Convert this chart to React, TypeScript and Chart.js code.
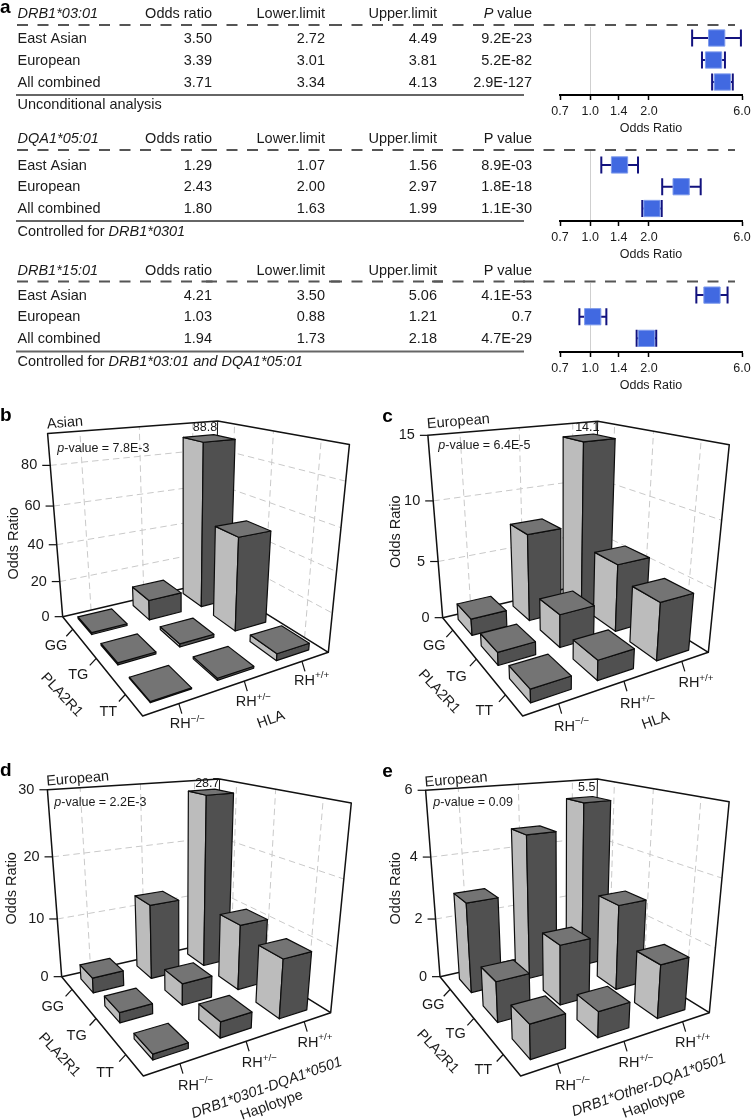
import React, { useEffect, useRef } from "react";
import { Chart, registerables } from "chart.js";
Chart.register(...registerables);

const FONT = '"Liberation Sans", Arial, sans-serif';

// ---------- Panel a data ----------
const rowLabels = ["East Asian", "European", "All combined"];
const columnHeaders = ["Odds ratio", "Lower.limit", "Upper.limit"];
const forestTicks = [0.7, 1.0, 1.4, 2.0, 6.0];

const drb1Odds = [3.5, 3.39, 3.71];
const drb1Lower = [2.72, 3.01, 3.34];
const drb1Upper = [4.49, 3.81, 4.13];
const drb1P = ["9.2E-23", "5.2E-82", "2.9E-127"];

const dqa1Odds = [1.29, 2.43, 1.8];
const dqa1Lower = [1.07, 2.0, 1.63];
const dqa1Upper = [1.56, 2.97, 1.99];
const dqa1P = ["8.9E-03", "1.8E-18", "1.1E-30"];

const drb15Odds = [4.21, 1.03, 1.94];
const drb15Lower = [3.5, 0.88, 1.73];
const drb15Upper = [5.06, 1.21, 2.18];
const drb15P = ["4.1E-53", "0.7", "4.7E-29"];

// ---------- 3D panels data ----------
const plaLabels = ["GG", "TG", "TT"];
const rhLabels = [
  ["\u2212/\u2212"],
  ["+/\u2212"],
  ["+/+"],
];
// rows: GG, TG, TT   columns: RH-/-, RH+/-, RH+/+
const asianGG = [1, 11, 88.8];
const asianTG = [1, 1.6, 49];
const asianTT = [0.5, 1, 3.5];
const asianTicks = [0, 20, 40, 60, 80];

const euroGG = [1.4, 7.4, 14.1];
const euroTG = [1.05, 2.7, 5.6];
const euroTT = [1.0, 1.55, 4.55];
const euroTicks = [0, 5, 10, 15];

const drbGG = [2.5, 12.5, 28.7];
const drbTG = [1.6, 3.5, 10.7];
const drbTT = [0.85, 2.45, 9.2];
const drbTicks = [0, 10, 20, 30];

const otherGG = [2.9, 4.7, 5.5];
const otherTG = [1.25, 1.9, 2.75];
const otherTT = [1.0, 0.78, 1.65];
const otherTicks = [0, 2, 4, 6];

type Seg = { t: string; it?: boolean; sup?: boolean; bold?: boolean };

function fontOf(s: Seg, size: number) {
  return `${s.it ? "italic " : ""}${s.bold ? "bold " : ""}${s.sup ? size * 0.68 : size}px ${FONT}`;
}

function segWidth(ctx: CanvasRenderingContext2D, segs: Seg[], size: number) {
  let w = 0;
  for (const s of segs) {
    ctx.font = fontOf(s, size);
    w += ctx.measureText(s.t).width;
  }
  return w;
}

function drawText(
  ctx: CanvasRenderingContext2D,
  segs: Seg[],
  x: number,
  y: number,
  size: number,
  align: "left" | "center" | "right" = "left",
  rot = 0,
  color = "#1a1a1a"
) {
  ctx.save();
  ctx.translate(x, y);
  ctx.rotate((rot * Math.PI) / 180);
  const w = segWidth(ctx, segs, size);
  let cx = align === "left" ? 0 : align === "center" ? -w / 2 : -w;
  ctx.fillStyle = color;
  ctx.textBaseline = "middle";
  ctx.textAlign = "left";
  for (const s of segs) {
    ctx.font = fontOf(s, size);
    ctx.fillText(s.t, cx, s.sup ? -size * 0.36 : 0);
    cx += ctx.measureText(s.t).width;
  }
  ctx.restore();
}

// ---------- Forest panel ----------
type ForestCfg = {
  top: number;
  height: number;
  areaTop: number;
  rows: [number, number]; // y scale range
  dash: number;
  rule: number;
  head: Seg[];
  pHead: Seg[];
  headY: number;
  note: Seg[];
  noteY: number;
  odds: number[];
  lower: number[];
  upper: number[];
  p: string[];
  dataRange: [number, number];
  letter?: string;
};

const forests: ForestCfg[] = [
  {
    top: 0,
    height: 136,
    areaTop: 27,
    rows: [-0.5, 2.59],
    dash: 25,
    rule: 95,
    head: [{ t: "DRB1*03:01", it: true }],
    pHead: [{ t: "P", it: true }, { t: " value" }],
    headY: 14,
    note: [{ t: "Unconditional analysis" }],
    noteY: 105,
    odds: drb1Odds,
    lower: drb1Lower,
    upper: drb1Upper,
    p: drb1P,
    dataRange: [0.735, 4.54],
    letter: "a",
  },
  {
    top: 132,
    height: 130,
    areaTop: 19,
    rows: [-0.64, 2.575],
    dash: 18,
    rule: 89,
    head: [{ t: "DQA1*05:01", it: true }],
    pHead: [{ t: "P value" }],
    headY: 7,
    note: [{ t: "Controlled for " }, { t: "DRB1*0301", it: true }],
    noteY: 99.5,
    odds: dqa1Odds,
    lower: dqa1Lower,
    upper: dqa1Upper,
    p: dqa1P,
    dataRange: [0.735, 4.54],
  },
  {
    top: 262,
    height: 131,
    areaTop: 21,
    rows: [-0.56, 2.63],
    dash: 19.5,
    rule: 89.5,
    head: [{ t: "DRB1*15:01", it: true }],
    pHead: [{ t: "P value" }],
    headY: 8.5,
    note: [
      { t: "Controlled for " },
      { t: "DRB1*03:01 and DQA1*05:01", it: true },
    ],
    noteY: 100,
    odds: drb15Odds,
    lower: drb15Lower,
    upper: drb15Upper,
    p: drb15P,
    dataRange: [0.7, 6],
  },
];

const columnRight = [212, 325, 437];
const pRight = 532;
const dashSegments: [number, number][] = [
  [17, 217],
  [206, 342],
  [331, 443],
  [432, 534],
  [523, 735],
];

const forestPlugin = (cfg: ForestCfg) => ({
  id: "forestTable",
  beforeDatasetsDraw(chart: any) {
    const ctx: CanvasRenderingContext2D = chart.ctx;
    const y = chart.scales.y;
    const xd = chart.scales.xData;
    ctx.save();
    // table rules
    ctx.strokeStyle = "#555";
    ctx.lineWidth = 2;
    ctx.setLineDash([11, 9.5]);
    for (const [a, b] of dashSegments) {
      ctx.beginPath();
      ctx.moveTo(a, cfg.dash);
      ctx.lineTo(b, cfg.dash);
      ctx.stroke();
    }
    ctx.setLineDash([]);
    ctx.strokeStyle = "#666";
    ctx.beginPath();
    ctx.moveTo(16, cfg.rule);
    ctx.lineTo(524, cfg.rule);
    ctx.stroke();
    // headers
    drawText(ctx, cfg.head, 17.5, cfg.headY, 14.5);
    columnHeaders.forEach((h, i) =>
      drawText(ctx, [{ t: h }], columnRight[i], cfg.headY, 14.5, "right")
    );
    drawText(ctx, cfg.pHead, pRight, cfg.headY, 14.5, "right");
    // rows
    rowLabels.forEach((lab, i) => {
      const py = y.getPixelForValue(i);
      drawText(ctx, [{ t: lab }], 17.5, py + 0.7, 14.5);
      [cfg.odds, cfg.lower, cfg.upper].forEach((col, c) =>
        drawText(ctx, [{ t: col[i].toFixed(2) }], columnRight[c], py + 0.7, 14.5, "right")
      );
      drawText(ctx, [{ t: cfg.p[i] }], pRight, py + 0.7, 14.5, "right");
      // error bars
      const a = xd.getPixelForValue(cfg.lower[i]);
      const b = xd.getPixelForValue(cfg.upper[i]);
      ctx.strokeStyle = "#12127e";
      ctx.lineWidth = 2;
      ctx.beginPath();
      ctx.moveTo(a, py);
      ctx.lineTo(b, py);
      ctx.moveTo(a, py - 8.5);
      ctx.lineTo(a, py + 8.5);
      ctx.moveTo(b, py - 8.5);
      ctx.lineTo(b, py + 8.5);
      ctx.stroke();
    });
    drawText(ctx, cfg.note, 17.5, cfg.noteY, 14.5);
    if (cfg.letter)
      drawText(ctx, [{ t: cfg.letter, bold: true }], 0, 8, 19, "left", 0, "#000");
    ctx.restore();
  },
});

function ForestPanel({ cfg }: { cfg: ForestCfg }) {
  const ref = useRef<HTMLCanvasElement>(null);
  useEffect(() => {
    const chart = new Chart(ref.current!, {
      type: "scatter",
      data: {
        datasets: [
          {
            label: "Odds ratio",
            xAxisID: "xData",
            data: cfg.odds.map((v, i) => ({ x: v, y: i })),
            pointStyle: "rect",
            pointRadius: 11.5,
            backgroundColor: "#4169e1",
            borderColor: "#7f9bec",
            borderWidth: 1,
          },
        ],
      },
      options: {
        animation: false,
        responsive: false,
        devicePixelRatio: 1,
        events: [],
        layout: { padding: { left: 560, right: 34, top: cfg.areaTop, bottom: 0 } },
        plugins: { legend: { display: false }, tooltip: { enabled: false } },
        scales: {
          x: {
            type: "logarithmic",
            min: 0.7,
            max: 6,
            afterBuildTicks: (s: any) => {
              s.ticks = forestTicks.map((value) => ({ value }));
            },
            afterFit: (s: any) => {
              s.height = 41;
            },
            border: { display: true, color: "#000", width: 2 },
            grid: {
              drawOnChartArea: true,
              tickLength: 5,
              lineWidth: 1,
              tickWidth: 1.5,
              tickColor: "#000",
              color: (c: any) => (c.tick && c.tick.value === 1 ? "#cfcfcf" : "rgba(0,0,0,0)"),
            },
            ticks: {
              autoSkip: false,
              maxRotation: 0,
              padding: 4.5,
              color: "#1a1a1a",
              font: { family: FONT, size: 12.5 },
              callback: (v: any) => Number(v).toFixed(1),
            },
            title: {
              display: true,
              text: "Odds Ratio",
              color: "#1a1a1a",
              font: { family: FONT, size: 12.5 },
              padding: { top: 0, bottom: 0 },
            },
          },
          xData: {
            type: "logarithmic",
            axis: "x",
            min: cfg.dataRange[0],
            max: cfg.dataRange[1],
            display: false,
          },
          y: {
            type: "linear",
            min: cfg.rows[0],
            max: cfg.rows[1],
            reverse: true,
            display: false,
          },
        },
      } as any,
      plugins: [forestPlugin(cfg)],
    });
    return () => chart.destroy();
  }, []);
  return (
    <canvas
      ref={ref}
      width={776}
      height={cfg.height}
      style={{ position: "absolute", left: 0, top: cfg.top, width: 776, height: cfg.height }}
    />
  );
}

// ---------- 3D panels ----------
type P2 = [number, number];
type Cfg3D = {
  letter: string;
  letterAt: P2;
  left: number;
  top: number;
  w: number;
  h: number;
  L: P2;
  F: P2;
  R: P2;
  B: P2;
  TL: P2;
  TB: P2;
  TR: P2;
  yMax: number;
  ticks: number[];
  gg: number[];
  tg: number[];
  tt: number[];
  title: string;
  titleAt: P2;
  pText: string;
  pAt: P2;
  peak: string;
  peakAt: P2;
  yTitleAt: P2;
  plaAt: P2[];
  plaTitleAt: P2;
  rhAt: P2[];
  xTitle: Seg[];
  xTitleAt: P2;
  xTitle2?: string;
  xTitle2At?: P2;
  half: [number, number];
};

// all layout numbers below are in triple-scale pixels, divided by 3 at draw time
const panels: Cfg3D[] = [
  {
    letter: "b",
    letterAt: [0, 32],
    left: 0,
    top: 405,
    w: 375,
    h: 350,
    L: [188, 635],
    F: [428, 933],
    R: [985, 742],
    B: [643, 529],
    TL: [140, 85],
    TB: [660, 42],
    TR: [1042, 127],
    yMax: 95,
    ticks: asianTicks,
    gg: asianGG,
    tg: asianTG,
    tt: asianTT,
    title: "Asian",
    titleAt: [195, 54],
    pText: "-value = 7.8E-3",
    pAt: [172, 130],
    peak: "88.8",
    peakAt: [615, 67],
    yTitleAt: [42, 415],
    plaAt: [[168, 722], [235, 810], [325, 920]],
    plaTitleAt: [185, 870],
    rhAt: [[562, 958], [760, 892], [935, 828]],
    xTitle: [{ t: "HLA" }],
    xTitleAt: [813, 944],
    half: [0.1, 0.103],
  },
  {
    letter: "c",
    letterAt: [22, 35],
    left: 375,
    top: 405,
    w: 376,
    h: 350,
    L: [203, 638],
    F: [443, 933],
    R: [1000, 742],
    B: [658, 530],
    TL: [155, 87],
    TB: [677, 44],
    TR: [1055, 130],
    yMax: 15,
    ticks: euroTicks,
    gg: euroGG,
    tg: euroTG,
    tt: euroTT,
    title: "European",
    titleAt: [250, 50],
    pText: "-value = 6.4E-5",
    pAt: [190, 122],
    peak: "14.1",
    peakAt: [637, 68],
    yTitleAt: [62, 380],
    plaAt: [[178, 722], [245, 815], [328, 918]],
    plaTitleAt: [192, 860],
    rhAt: [[590, 965], [788, 898], [963, 835]],
    xTitle: [{ t: "HLA" }],
    xTitleAt: [842, 947],
    half: [0.099, 0.104],
  },
  {
    letter: "d",
    letterAt: [0, 32],
    left: 0,
    top: 760,
    w: 375,
    h: 360,
    L: [185, 650],
    F: [430, 948],
    R: [992, 758],
    B: [648, 545],
    TL: [140, 93],
    TB: [665, 48],
    TR: [1048, 137],
    yMax: 30,
    ticks: drbTicks,
    gg: drbGG,
    tg: drbTG,
    tt: drbTT,
    title: "European",
    titleAt: [233, 57],
    pText: "-value = 2.2E-3",
    pAt: [163, 127],
    peak: "28.7",
    peakAt: [622, 70],
    yTitleAt: [37, 385],
    plaAt: [[158, 742], [230, 828], [315, 940]],
    plaTitleAt: [178, 885],
    rhAt: [[587, 978], [778, 910], [945, 848]],
    xTitle: [{ t: "DRB1*0301-DQA1*0501", it: true }],
    xTitleAt: [800, 984],
    xTitle2: "Haplotype",
    xTitle2At: [815, 1036],
    half: [0.085, 0.09],
  },
  {
    letter: "e",
    letterAt: [22, 35],
    left: 375,
    top: 760,
    w: 376,
    h: 360,
    L: [195, 650],
    F: [437, 948],
    R: [1003, 758],
    B: [658, 545],
    TL: [150, 93],
    TB: [673, 48],
    TR: [1057, 135],
    yMax: 6,
    ticks: otherTicks,
    gg: otherGG,
    tg: otherTG,
    tt: otherTT,
    title: "European",
    titleAt: [243, 60],
    pText: "-value = 0.09",
    pAt: [175, 127],
    peak: "5.5",
    peakAt: [635, 83],
    yTitleAt: [62, 385],
    plaAt: [[175, 735], [242, 822], [325, 930]],
    plaTitleAt: [188, 875],
    rhAt: [[593, 978], [783, 910], [953, 848]],
    xTitle: [{ t: "DRB1*Other-DQA1*0501", it: true }],
    xTitleAt: [822, 976],
    xTitle2: "Haplotype",
    xTitle2At: [837, 1030],
    half: [0.084, 0.088],
  },
];

function solve3(A: number[][], b: number[]) {
  const m = A.map((r, i) => [...r, b[i]]);
  for (let i = 0; i < 3; i++) {
    let piv = i;
    for (let k = i + 1; k < 3; k++) if (Math.abs(m[k][i]) > Math.abs(m[piv][i])) piv = k;
    [m[i], m[piv]] = [m[piv], m[i]];
    for (let k = 0; k < 3; k++) {
      if (k === i) continue;
      const f = m[k][i] / m[i][i];
      for (let j = i; j < 4; j++) m[k][j] -= f * m[i][j];
    }
  }
  return [m[0][3] / m[0][0], m[1][3] / m[1][1], m[2][3] / m[2][2]];
}

// A perspective camera fitted to the seven visible corners of the plot box.
function makeCamera(c: Cfg3D) {
  const p00 = c.F, p10 = c.R, p01 = c.L, p11 = c.B;
  const dx1 = p10[0] - p11[0], dx2 = p01[0] - p11[0], sx = p00[0] - p10[0] + p11[0] - p01[0];
  const dy1 = p10[1] - p11[1], dy2 = p01[1] - p11[1], sy = p00[1] - p10[1] + p11[1] - p01[1];
  const den = dx1 * dy2 - dx2 * dy1;
  const g = (sx * dy2 - dx2 * sy) / den;
  const h = (dx1 * sy - sx * dy1) / den;
  const a = p10[0] - p00[0] + g * p10[0], b = p01[0] - p00[0] + h * p01[0], e0 = p00[0];
  const d = p10[1] - p00[1] + g * p10[1], e = p01[1] - p00[1] + h * p01[1], f0 = p00[1];
  const tops: [number, number, P2][] = [
    [0, 1, c.TL],
    [1, 1, c.TB],
    [1, 0, c.TR],
  ];
  const rows: number[][] = [];
  const rhs: number[] = [];
  for (const [u, v, P] of tops) {
    const D = g * u + h * v + 1;
    rows.push([1, 0, -P[0]]);
    rhs.push(P[0] * D - (a * u + b * v + e0));
    rows.push([0, 1, -P[1]]);
    rhs.push(P[1] * D - (d * u + e * v + f0));
  }
  const AtA = [0, 1, 2].map((i) =>
    [0, 1, 2].map((j) => rows.reduce((s, r) => s + r[i] * r[j], 0))
  );
  const Atb = [0, 1, 2].map((i) => rows.reduce((s, r, k) => s + r[i] * rhs[k], 0));
  const [Cx, Cy, cw] = solve3(AtA, Atb);
  return (u: number, v: number, w: number): P2 => {
    const D = g * u + h * v + 1 + cw * w;
    return [(a * u + b * v + e0 + Cx * w) / D / 3, (d * u + e * v + f0 + Cy * w) / D / 3];
  };
}

const z = (p: P2): P2 => [p[0] / 3, p[1] / 3];

const plot3dPlugin = (c: Cfg3D) => ({
  id: "plot3d",
  beforeDatasetsDraw(chart: any) {
    const ctx: CanvasRenderingContext2D = chart.ctx;
    const { x, y, p } = chart.scales;
    const cam = makeCamera(c);
    const U = (i: number) => (x.getPixelForValue(i) - x.left) / x.width;
    const V = (j: number) => (p.getPixelForValue(j) - p.top) / p.height;
    const W = (val: number) => (y.bottom - y.getPixelForValue(val)) / y.height;
    const line = (pts: P2[]) => {
      ctx.beginPath();
      pts.forEach((q, i) => (i ? ctx.lineTo(q[0], q[1]) : ctx.moveTo(q[0], q[1])));
      ctx.stroke();
    };
    ctx.save();
    ctx.lineCap = "butt";
    ctx.lineJoin = "round";
    // dashed wall grid
    ctx.strokeStyle = "#c9c9c9";
    ctx.lineWidth = 1;
    ctx.setLineDash([6.5, 4]);
    [0, 1, 2].forEach((i) => {
      line([cam(U(i), 1, 0), cam(U(i), 1, 1)]);
      line([cam(1, V(i), 0), cam(1, V(i), 1)]);
    });
    c.ticks.forEach((t) => {
      const w = W(t);
      if (w <= 0 || w >= 0.999) return;
      line([cam(0, 1, w), cam(1, 1, w), cam(1, 0, w)]);
    });
    ctx.setLineDash([]);
    // box
    ctx.strokeStyle = "#111";
    ctx.lineWidth = 1.5;
    line([cam(0, 1, 0), cam(0, 1, 1), cam(1, 1, 1), cam(1, 0, 1), cam(1, 0, 0), cam(0, 0, 0), cam(0, 1, 0)]);
    line([cam(0, 1, 0), cam(1, 1, 0), cam(1, 0, 0)]);
    ctx.lineWidth = 1;
    line([cam(1, 1, 0), cam(1, 1, 1)]);
    ctx.lineWidth = 1.2;
    // axis ticks and labels
    c.ticks.forEach((t) => {
      const q = cam(0, 1, W(t));
      line([q, [q[0] - 8, q[1]]]);
      drawText(ctx, [{ t: String(t) }], q[0] - 13, q[1], 14.5, "right");
    });
    plaLabels.forEach((lab, j) => {
      const q = cam(0, V(j), 0);
      line([q, [q[0] - 6.5, q[1] + 7]]);
      drawText(ctx, [{ t: lab }], c.plaAt[j][0] / 3, c.plaAt[j][1] / 3, 14.5, "center");
    });
    rhLabels.forEach((sup, i) => {
      const q = cam(U(i), 0, 0);
      line([q, [q[0] + 3, q[1] + 10]]);
      drawText(ctx, [{ t: "RH" }, { t: sup[0], sup: true }], c.rhAt[i][0] / 3, c.rhAt[i][1] / 3, 14.5, "center");
    });
    // bars, back to front
    const [hu, hv] = c.half;
    chart.data.datasets.forEach((ds: any, j: number) => {
      [...ds.data].reverse().forEach((pt: any) => {
        const u = U(pt.x), v = V(j), w = W(pt.y);
        const corners = (wz: number) => ({
          a: cam(u - hu, v - hv, wz),
          b: cam(u + hu, v - hv, wz),
          c: cam(u + hu, v + hv, wz),
          d: cam(u - hu, v + hv, wz),
        });
        const lo = corners(0), hi = corners(w);
        const face = (pts: P2[], fill: string) => {
          ctx.beginPath();
          pts.forEach((q, i) => (i ? ctx.lineTo(q[0], q[1]) : ctx.moveTo(q[0], q[1])));
          ctx.closePath();
          ctx.fillStyle = fill;
          ctx.fill();
          ctx.strokeStyle = "#0d0d0d";
          ctx.lineWidth = 1.2;
          ctx.stroke();
        };
        face([lo.d, lo.a, hi.a, hi.d], "#bcbcbc");
        face([lo.a, lo.b, hi.b, hi.a], "#505050");
        face([hi.a, hi.b, hi.c, hi.d], "#747474");
      });
    });
    // free text
    drawText(ctx, [{ t: c.letter, bold: true }], c.letterAt[0] / 3, c.letterAt[1] / 3, 19, "left", 0, "#000");
    ctx.restore();
    ctx.save();
    const T = z(c.titleAt);
    drawText(ctx, [{ t: c.title }], T[0], T[1], 14.5, "center", -4.7);
    const Pp = z(c.pAt);
    drawText(ctx, [{ t: "p", it: true }, { t: c.pText }], Pp[0], Pp[1], 12.5);
    const Pk = z(c.peakAt);
    drawText(ctx, [{ t: c.peak }], Pk[0], Pk[1], 12.5, "center");
    const Yt = z(c.yTitleAt);
    drawText(ctx, [{ t: "Odds Ratio" }], Yt[0], Yt[1], 14.5, "center", -90);
    const Pl = z(c.plaTitleAt);
    drawText(ctx, [{ t: "PLA2R1" }], Pl[0], Pl[1], 14.5, "center", 47);
    const Xt = z(c.xTitleAt);
    drawText(ctx, c.xTitle, Xt[0], Xt[1], 14.5, "center", -19.5);
    if (c.xTitle2 && c.xTitle2At) {
      const X2 = z(c.xTitle2At);
      drawText(ctx, [{ t: c.xTitle2 }], X2[0], X2[1], 14.5, "center", -19.5);
    }
    ctx.restore();
  },
});

function Panel3D({ cfg }: { cfg: Cfg3D }) {
  const ref = useRef<HTMLCanvasElement>(null);
  useEffect(() => {
    const rows = [cfg.gg, cfg.tg, cfg.tt];
    const chart = new Chart(ref.current!, {
      type: "scatter",
      data: {
        datasets: rows.map((vals, j) => ({
          label: plaLabels[j],
          data: vals.map((v, i) => ({ x: i, y: v })),
          pointRadius: 0,
        })),
      },
      options: {
        animation: false,
        responsive: false,
        devicePixelRatio: 1,
        events: [],
        plugins: { legend: { display: false }, tooltip: { enabled: false } },
        scales: {
          x: { type: "linear", min: -0.5, max: 2.5, display: false },
          y: { type: "linear", min: 0, max: cfg.yMax, display: false },
          p: { type: "linear", axis: "y", min: -0.5, max: 2.5, display: false },
        },
      } as any,
      plugins: [plot3dPlugin(cfg)],
    });
    return () => chart.destroy();
  }, []);
  return (
    <canvas
      ref={ref}
      width={cfg.w}
      height={cfg.h}
      style={{ position: "absolute", left: cfg.left, top: cfg.top, width: cfg.w, height: cfg.h }}
    />
  );
}

export default function App() {
  useEffect(() => {
    document.body.style.margin = "0";
  }, []);
  return (
    <div style={{ position: "absolute", left: 0, top: 0, width: 751, height: 1120, background: "#fff", overflow: "hidden" }}>
      {forests.map((f, i) => (
        <ForestPanel key={i} cfg={f} />
      ))}
      {panels.map((p) => (
        <Panel3D key={p.letter} cfg={p} />
      ))}
    </div>
  );
}
